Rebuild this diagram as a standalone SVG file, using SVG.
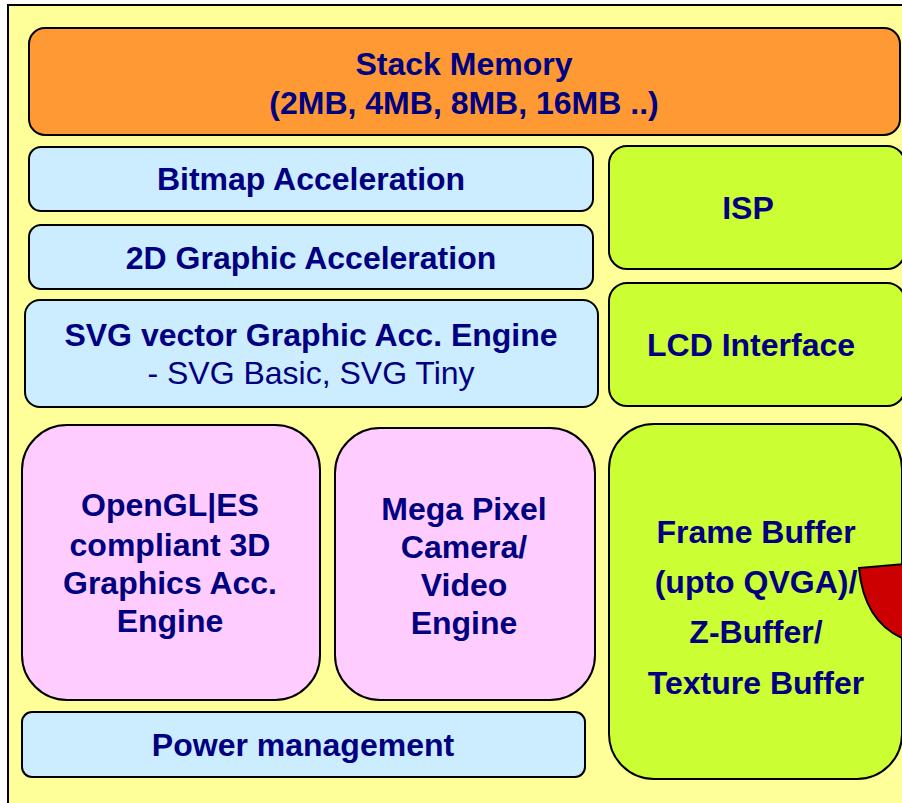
<svg xmlns="http://www.w3.org/2000/svg" width="902" height="803" viewBox="0 0 902 803">
<style>
.box{stroke:#000;stroke-width:2}
.or{fill:#FF9933}.bl{fill:#CCECFF}.gr{fill:#CCFF33}.pk{fill:#FFCCFF}
text{font-family:"Liberation Sans",Arial,sans-serif;font-size:32px;font-weight:bold;fill:#000080;text-anchor:middle}
.reg{font-weight:normal}
</style>
<rect x="0" y="0" width="902" height="803" fill="#fff"/>
<rect x="8" y="5" width="900" height="805" fill="#FFFF99" stroke="#000" stroke-width="2"/>
<g id="stack"><rect class="box or" x="29" y="28" width="871" height="107" rx="16"/><text x="464" y="75">Stack Memory</text><text x="464" y="114">(2MB, 4MB, 8MB, 16MB ..)</text></g>
<g id="bitmap"><rect class="box bl" x="29" y="147" width="564" height="64" rx="12"/><text x="311" y="190">Bitmap Acceleration</text></g>
<g id="g2d"><rect class="box bl" x="29" y="225" width="564" height="64" rx="12"/><text x="311" y="269">2D Graphic Acceleration</text></g>
<g id="svgeng"><rect class="box bl" x="25" y="300" width="573" height="107" rx="15"/><text x="311" y="346">SVG vector Graphic Acc. Engine</text><text class="reg" x="311" y="384">- SVG Basic, SVG Tiny</text></g>
<g id="isp"><rect class="box gr" x="609" y="146" width="296" height="123" rx="18"/><text x="748" y="219">ISP</text></g>
<g id="lcd"><rect class="box gr" x="609" y="283" width="296" height="123" rx="18"/><text x="751" y="356">LCD Interface</text></g>
<g id="opengl"><rect class="box pk" x="22" y="425" width="298" height="275" rx="45"/><text x="170" y="516">OpenGL|ES</text><text x="170" y="556">compliant 3D</text><text x="170" y="594">Graphics Acc.</text><text x="170" y="632">Engine</text></g>
<g id="camera"><rect class="box pk" x="335" y="428" width="260" height="272" rx="45"/><text x="464" y="520">Mega Pixel</text><text x="464" y="558">Camera/</text><text x="464" y="596">Video</text><text x="464" y="634">Engine</text></g>
<g id="framebuf"><rect class="box gr" x="609" y="424" width="293" height="355" rx="45"/><text x="756" y="543">Frame Buffer</text><text x="756" y="593">(upto QVGA)/</text><text x="756" y="643">Z-Buffer/</text><text x="756" y="694">Texture Buffer</text></g>
<path d="M859,568 L904,564 L904,639 Q864,622 859,568 Z" fill="#CC0000" stroke="#000" stroke-width="2"/>
<g id="power"><rect class="box bl" x="22" y="712" width="563" height="65" rx="10"/><text x="303" y="756">Power management</text></g>
<g id="connectors"></g>
</svg>
